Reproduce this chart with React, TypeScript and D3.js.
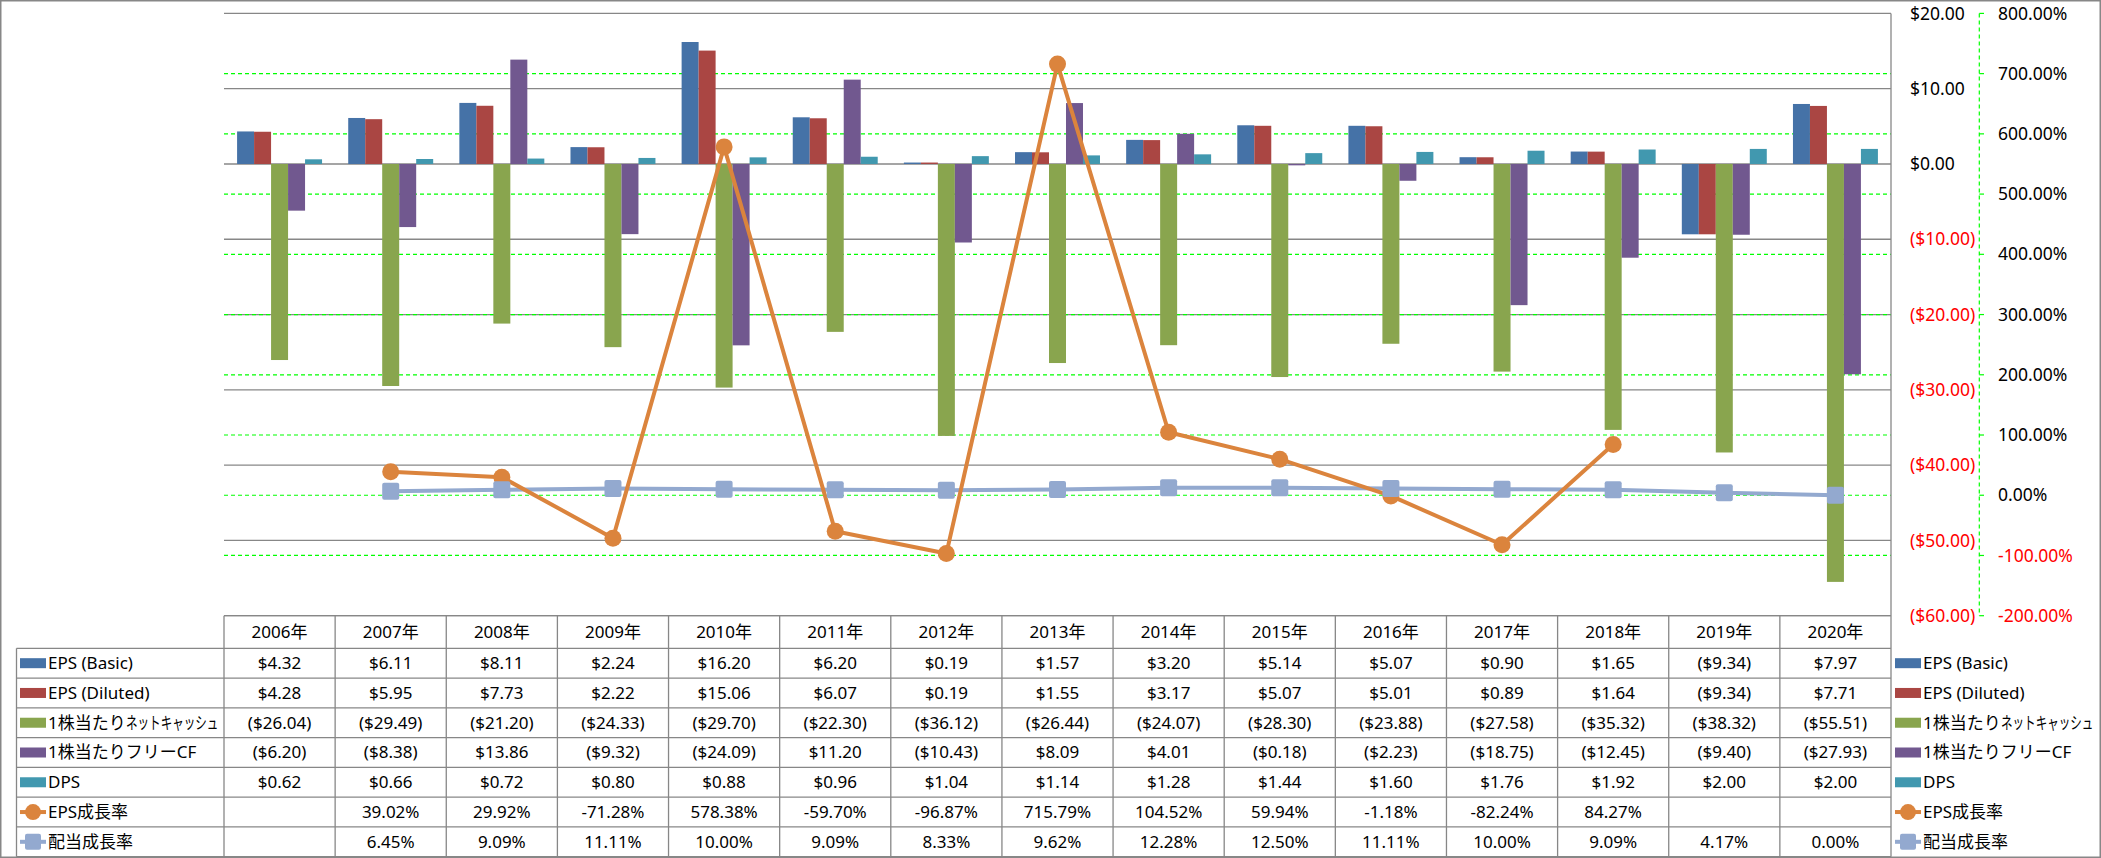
import React from "react";
import * as d3 from "d3";

const years = ["2006年","2007年","2008年","2009年","2010年","2011年","2012年","2013年","2014年","2015年","2016年","2017年","2018年","2019年","2020年"];
const epsBasic = [4.32, 6.11, 8.11, 2.24, 16.20, 6.20, 0.19, 1.57, 3.20, 5.14, 5.07, 0.90, 1.65, -9.34, 7.97];
const epsDiluted = [4.28, 5.95, 7.73, 2.22, 15.06, 6.07, 0.19, 1.55, 3.17, 5.07, 5.01, 0.89, 1.64, -9.34, 7.71];
const netCash = [-26.04, -29.49, -21.20, -24.33, -29.70, -22.30, -36.12, -26.44, -24.07, -28.30, -23.88, -27.58, -35.32, -38.32, -55.51];
const freeCF = [-6.20, -8.38, 13.86, -9.32, -24.09, 11.20, -10.43, 8.09, 4.01, -0.18, -2.23, -18.75, -12.45, -9.40, -27.93];
const dps = [0.62, 0.66, 0.72, 0.80, 0.88, 0.96, 1.04, 1.14, 1.28, 1.44, 1.60, 1.76, 1.92, 2.00, 2.00];
const epsGrowth: (number | null)[] = [null, 39.02, 29.92, -71.28, 578.38, -59.70, -96.87, 715.79, 104.52, 59.94, -1.18, -82.24, 84.27, null, null];
const divGrowth: (number | null)[] = [null, 6.45, 9.09, 11.11, 10.00, 9.09, 8.33, 9.62, 12.28, 12.50, 11.11, 10.00, 9.09, 4.17, 0.00];

const barNames = ["EPS (Basic)", "EPS (Diluted)", "1株当たりﾈｯﾄｷｬｯｼｭ", "1株当たりフリーCF", "DPS"];
const lineNames = ["EPS成長率", "配当成長率"];
const barColors = ["#4572A7", "#AA4643", "#89A54E", "#71588F", "#4198AF"];
const lineColors = ["#DB843D", "#93A9CF"];
const dollarTicks = [20, 10, 0, -10, -20, -30, -40, -50, -60];
const pctTicks = [800, 700, 600, 500, 400, 300, 200, 100, 0, -100, -200];

const FONT = "'Noto Sans', 'Noto Sans CJK JP', sans-serif";

const fmtDollar = (v: number) => (v < 0 ? `($${Math.abs(v).toFixed(2)})` : `$${v.toFixed(2)}`);
const fmtPct = (v: number | null) => (v === null ? "" : `${v.toFixed(2)}%`);

export default function App() {
  const W = 2101, H = 858;
  const plotLeft = 224, plotRight = 1891, plotTop = 13.4, plotBottom = 615.7;
  const tableLeft = 16.5, tableBottom = 856.7, headerBottom = 648.3;

  const yL = d3.scaleLinear().domain([-60, 20]).range([plotBottom, plotTop]);
  const yR = d3.scaleLinear().domain([-200, 800]).range([plotBottom, plotTop]);
  const x0 = d3.scaleBand<string>().domain(years).range([plotLeft, plotRight]).paddingInner(0).paddingOuter(0);
  const x1 = d3.scaleBand<string>().domain(barNames).range([0, x0.bandwidth()]).paddingInner(0).paddingOuter(0.77);

  const barSeries = [epsBasic, epsDiluted, netCash, freeCF, dps];

  const rowKeys = [...barNames, ...lineNames];
  const rowY = d3.scaleBand<string>().domain(rowKeys).range([headerBottom, tableBottom]);

  const cx = (i: number) => (x0(years[i]) as number) + x0.bandwidth() / 2;

  const lineGen = d3
    .line<number | null>()
    .defined((d) => d !== null)
    .x((_, i) => cx(i))
    .y((d) => yR(d as number));

  const rowTexts: string[][] = [
    epsBasic.map(fmtDollar),
    epsDiluted.map(fmtDollar),
    netCash.map(fmtDollar),
    freeCF.map(fmtDollar),
    dps.map(fmtDollar),
    epsGrowth.map(fmtPct),
    divGrowth.map(fmtPct),
  ];

  const legendKey = (idx: number, x: number, yc: number) => {
    if (idx < 5) {
      return <rect x={x} y={yc - 5} width={26} height={10} fill={barColors[idx]} />;
    }
    const c = lineColors[idx - 5];
    return (
      <g>
        <line x1={x} x2={x + 26} y1={yc} y2={yc} stroke={c} strokeWidth={4} />
        {idx === 5 ? (
          <circle cx={x + 13} cy={yc} r={8} fill={c} />
        ) : (
          <rect x={x + 13 - 8} y={yc - 8} width={16} height={16} rx={2} fill={c} />
        )}
      </g>
    );
  };

  const labelText = (name: string, x: number, yc: number) => {
    if (name === "1株当たりﾈｯﾄｷｬｯｼｭ") {
      // half-width katakana drawn as horizontally condensed glyphs
      return (
        <g>
          <text x={x} y={yc} dy="0.35em" fontSize={17} fill="#000">1株当たり</text>
          <text transform={`translate(${x + 78},${yc}) scale(0.68,1)`} dy="0.35em" fontSize={17} fill="#000">ネットキャッシュ</text>
        </g>
      );
    }
    return (
      <text x={x} y={yc} dy="0.35em" fontSize={17} fill="#000">
        {name}
      </text>
    );
  };

  return (
    <svg width={W} height={H} style={{ position: "absolute", left: 0, top: 0, background: "#fff" }} fontFamily={FONT}>
      <rect x={0} y={0} width={W} height={H} fill="#fff" />
      {dollarTicks.map((t) => (
        <line key={"g" + t} x1={plotLeft} x2={plotRight} y1={yL(t)} y2={yL(t)} stroke="#878787" strokeWidth={1.3} />
      ))}
      {pctTicks.filter((t) => t !== 800 && t !== -200).map((t) => (
        <line key={"p" + t} x1={plotLeft} x2={plotRight} y1={yR(t)} y2={yR(t)} stroke="#00FF00" strokeWidth={1.2} strokeDasharray="4,3" />
      ))}
      {barSeries.map((s, si) =>
        s.map((v, i) => (
          <rect
            key={`b${si}-${i}`}
            x={(x0(years[i]) as number) + (x1(barNames[si]) as number)}
            y={Math.min(yL(v), yL(0))}
            width={x1.bandwidth()}
            height={Math.abs(yL(v) - yL(0))}
            fill={barColors[si]}
          />
        ))
      )}
      <path d={lineGen(divGrowth) || ""} fill="none" stroke={lineColors[1]} strokeWidth={4} strokeLinejoin="round" />
      <path d={lineGen(epsGrowth) || ""} fill="none" stroke={lineColors[0]} strokeWidth={4} strokeLinejoin="round" />
      {epsGrowth.map((v, i) =>
        v === null ? null : <circle key={"c" + i} cx={cx(i)} cy={yR(v)} r={8.5} fill={lineColors[0]} />
      )}
      {divGrowth.map((v, i) =>
        v === null ? null : (
          <rect key={"s" + i} x={cx(i) - 8.5} y={yR(v) - 8.5} width={17} height={17} rx={2} fill={lineColors[1]} />
        )
      )}
      <line x1={plotRight} x2={plotRight} y1={plotTop} y2={tableBottom} stroke="#878787" strokeWidth={1.3} />
      {dollarTicks.map((t) => (
        <text key={"dl" + t} x={1910} y={yL(t)} dy="0.35em" fontSize={17.5} fill={t < 0 ? "#FF0000" : "#000"}>
          {fmtDollar(t)}
        </text>
      ))}
      <line x1={1979.3} x2={1979.3} y1={plotTop} y2={plotBottom} stroke="#00FF00" strokeWidth={1.2} strokeDasharray="4,3" />
      {pctTicks.map((t) => (
        <g key={"pl" + t}>
          <line x1={1979.3} x2={1984} y1={yR(t)} y2={yR(t)} stroke="#00FF00" strokeWidth={1.2} />
          <text x={1998} y={yR(t)} dy="0.35em" fontSize={17.5} fill={t < 0 ? "#FF0000" : "#000"}>
            {fmtPct(t)}
          </text>
        </g>
      ))}
      <line x1={plotLeft} x2={plotRight} y1={plotBottom} y2={plotBottom} stroke="#878787" strokeWidth={1.3} />
      {rowKeys.map((k) => (
        <line key={"rl" + k} x1={tableLeft} x2={plotRight} y1={rowY(k)} y2={rowY(k)} stroke="#878787" strokeWidth={1.3} />
      ))}
      <line x1={tableLeft} x2={plotRight} y1={tableBottom} y2={tableBottom} stroke="#878787" strokeWidth={1.3} />
      <line x1={tableLeft} x2={tableLeft} y1={headerBottom} y2={tableBottom} stroke="#878787" strokeWidth={1.3} />
      {years.map((yr) => (
        <line key={"cl" + yr} x1={x0(yr)} x2={x0(yr)} y1={plotBottom} y2={tableBottom} stroke="#878787" strokeWidth={1.3} />
      ))}
      {years.map((yr, i) => (
        <text key={"h" + yr} x={cx(i)} y={(plotBottom + headerBottom) / 2} dy="0.35em" fontSize={17} textAnchor="middle" fill="#000">
          {yr}
        </text>
      ))}
      {rowKeys.map((k, ri) => {
        const yc = (rowY(k) as number) + rowY.bandwidth() / 2;
        return (
          <g key={"row" + k}>
            {legendKey(ri, 20, yc)}
            {labelText(k, 48, yc)}
            {rowTexts[ri].map((t, i) => (
              <text key={i} x={cx(i)} y={yc} dy="0.35em" fontSize={17} textAnchor="middle" fill="#000">
                {t}
              </text>
            ))}
            {legendKey(ri, 1895, yc)}
            {labelText(k, 1923, yc)}
          </g>
        );
      })}
      <rect x={0.75} y={0.75} width={W - 1.5} height={H - 1.5} fill="none" stroke="#878787" strokeWidth={1.5} />
    </svg>
  );
}
